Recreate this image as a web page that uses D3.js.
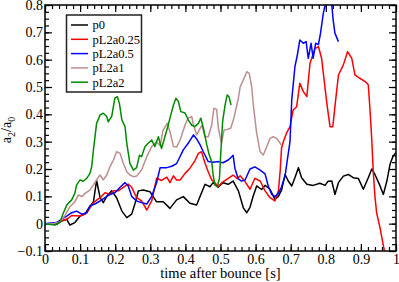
<!DOCTYPE html>
<meta charset="utf-8">
<style>
body { margin: 0; background: #fff; }
svg text { font-family: "Liberation Serif", "Times New Roman", Times, "DejaVu Serif", serif; fill: #000; }
.tick text { font-size: 14px; }
.tick line { stroke: #000; stroke-width: 1.2px; }
.domain { display: none; }
.series { fill: none; stroke-width: 1.5px; stroke-linejoin: round; }
</style>
<body>
<script src="https://cdn.jsdelivr.net/npm/d3@7"></script>
<script>

var names = ["p0", "pL2a0.25", "pL2a0.5", "pL2a1", "pL2a2"];
var colors = ["#000000", "#ff0000", "#0000ff", "#bc8f8f", "#008b00"];

var xTicks = [0, 0.1, 0.2, 0.3, 0.4, 0.5, 0.6, 0.7, 0.8, 0.9, 1];
var yTicks = [-0.1, 0, 0.1, 0.2, 0.3, 0.4, 0.5, 0.6, 0.7, 0.8];

var p0 = [[0,0],[0.014,0.001],[0.033,-0.003],[0.048,0.01],[0.062,0.016],[0.071,-0.005],[0.085,0.004],[0.1,0.028],[0.114,0.035],[0.123,0.054],[0.138,0.08],[0.147,0.158],[0.157,0.095],[0.166,0.077],[0.176,0.1],[0.19,0.12],[0.204,0.095],[0.219,0.046],[0.233,0.022],[0.247,0.035],[0.256,0.072],[0.266,0.12],[0.28,0.123],[0.299,0.117],[0.318,0.08],[0.337,0.08],[0.356,0.056],[0.375,0.087],[0.394,0.099],[0.413,0.075],[0.432,0.068],[0.442,0.1],[0.456,0.144],[0.47,0.135],[0.479,0.15],[0.493,0.133],[0.507,0.15],[0.522,0.144],[0.536,0.156],[0.551,0.12],[0.565,0.058],[0.575,0.04],[0.584,0.06],[0.593,0.1],[0.603,0.138],[0.617,0.125],[0.627,0.14],[0.641,0.126],[0.655,0.089],[0.665,0.1],[0.674,0.123],[0.684,0.18],[0.693,0.156],[0.703,0.138],[0.712,0.168],[0.722,0.205],[0.731,0.168],[0.746,0.144],[0.764,0.14],[0.783,0.148],[0.798,0.14],[0.806,0.155],[0.817,0.156],[0.826,0.107],[0.836,0.15],[0.85,0.174],[0.864,0.18],[0.878,0.168],[0.893,0.165],[0.907,0.126],[0.921,0.168],[0.931,0.2],[0.94,0.18],[0.954,0.14],[0.964,0.107],[0.974,0.156],[0.983,0.217],[0.992,0.248],[1.0,0.26]];

var pL2a025 = [[0,0],[0.028,0.001],[0.043,0.01],[0.062,0.016],[0.076,0.03],[0.1,0.028],[0.119,0.04],[0.138,0.077],[0.157,0.095],[0.171,0.113],[0.185,0.107],[0.195,0.12],[0.209,0.12],[0.223,0.133],[0.237,0.145],[0.247,0.133],[0.261,0.095],[0.275,0.083],[0.29,0.05],[0.304,0.083],[0.318,0.166],[0.332,0.158],[0.347,0.17],[0.356,0.15],[0.366,0.175],[0.375,0.16],[0.385,0.16],[0.399,0.184],[0.413,0.203],[0.427,0.23],[0.437,0.257],[0.446,0.263],[0.456,0.221],[0.465,0.19],[0.475,0.16],[0.484,0.15],[0.493,0.135],[0.504,0.15],[0.522,0.166],[0.536,0.178],[0.547,0.165],[0.556,0.175],[0.57,0.154],[0.584,0.126],[0.598,0.166],[0.613,0.156],[0.627,0.12],[0.641,0.095],[0.655,0.083],[0.665,0.12],[0.67,0.193],[0.674,0.278],[0.679,0.3],[0.688,0.331],[0.698,0.355],[0.707,0.416],[0.717,0.428],[0.726,0.514],[0.736,0.483],[0.746,0.465],[0.755,0.587],[0.769,0.64],[0.779,0.648],[0.788,0.605],[0.803,0.44],[0.812,0.355],[0.82,0.355],[0.826,0.428],[0.836,0.544],[0.85,0.581],[0.862,0.629],[0.874,0.605],[0.883,0.544],[0.897,0.532],[0.912,0.52],[0.921,0.508],[0.926,0.416],[0.931,0.306],[0.935,0.196],[0.94,0.099],[0.945,0.038],[0.954,-0.012],[0.964,-0.08],[0.967,-0.1]];

var pL2a05 = [[0,0],[0.033,0.004],[0.052,0.02],[0.062,0.028],[0.076,0.04],[0.09,0.046],[0.105,0.035],[0.119,0.04],[0.128,0.065],[0.142,0.072],[0.157,0.083],[0.171,0.095],[0.185,0.107],[0.199,0.113],[0.214,0.133],[0.228,0.15],[0.237,0.138],[0.247,0.1],[0.261,0.083],[0.275,0.077],[0.29,0.072],[0.304,0.1],[0.318,0.15],[0.328,0.205],[0.347,0.205],[0.361,0.21],[0.375,0.22],[0.38,0.233],[0.394,0.27],[0.408,0.294],[0.423,0.325],[0.432,0.31],[0.442,0.288],[0.451,0.263],[0.465,0.227],[0.479,0.225],[0.494,0.227],[0.507,0.223],[0.522,0.233],[0.532,0.245],[0.536,0.25],[0.541,0.203],[0.55,0.165],[0.56,0.156],[0.57,0.16],[0.584,0.2],[0.598,0.208],[0.613,0.196],[0.627,0.182],[0.636,0.138],[0.646,0.107],[0.655,0.099],[0.665,0.111],[0.674,0.135],[0.684,0.175],[0.69,0.23],[0.698,0.3],[0.703,0.453],[0.712,0.574],[0.719,0.617],[0.726,0.672],[0.736,0.66],[0.744,0.666],[0.75,0.605],[0.758,0.66],[0.764,0.605],[0.771,0.66],[0.779,0.655],[0.785,0.697],[0.793,0.77],[0.798,0.8],[0.807,0.84],[0.817,0.8],[0.821,0.745],[0.826,0.697],[0.836,0.666]];

var pL2a1 = [[0,0],[0.024,0],[0.043,0.007],[0.057,0.03],[0.071,0.062],[0.085,0.08],[0.095,0.105],[0.105,0.099],[0.114,0.111],[0.128,0.123],[0.138,0.142],[0.147,0.16],[0.157,0.178],[0.166,0.16],[0.176,0.178],[0.185,0.208],[0.195,0.233],[0.204,0.263],[0.214,0.257],[0.223,0.221],[0.233,0.19],[0.242,0.178],[0.252,0.172],[0.261,0.174],[0.275,0.196],[0.29,0.245],[0.304,0.282],[0.318,0.3],[0.328,0.285],[0.336,0.34],[0.348,0.367],[0.356,0.337],[0.366,0.282],[0.375,0.28],[0.385,0.306],[0.399,0.361],[0.408,0.386],[0.418,0.392],[0.423,0.361],[0.432,0.325],[0.442,0.349],[0.447,0.36],[0.456,0.318],[0.465,0.318],[0.475,0.361],[0.481,0.422],[0.489,0.418],[0.494,0.349],[0.503,0.294],[0.51,0.343],[0.519,0.345],[0.529,0.349],[0.538,0.386],[0.551,0.459],[0.556,0.5],[0.565,0.526],[0.575,0.556],[0.582,0.55],[0.589,0.5],[0.593,0.44],[0.603,0.331],[0.613,0.263],[0.622,0.251],[0.632,0.282],[0.641,0.312],[0.65,0.318],[0.66,0.312],[0.67,0.294],[0.672,0.288]];

var pL2a2 = [[0,0],[0.028,-0.005],[0.043,0.007],[0.052,0.038],[0.062,0.068],[0.076,0.087],[0.085,0.111],[0.09,0.142],[0.1,0.16],[0.109,0.155],[0.119,0.166],[0.128,0.184],[0.133,0.208],[0.138,0.27],[0.147,0.367],[0.157,0.398],[0.166,0.404],[0.176,0.392],[0.18,0.373],[0.19,0.392],[0.199,0.459],[0.206,0.465],[0.212,0.44],[0.219,0.38],[0.228,0.355],[0.233,0.294],[0.242,0.22],[0.252,0.196],[0.261,0.205],[0.269,0.25],[0.275,0.245],[0.285,0.282],[0.294,0.294],[0.304,0.306],[0.313,0.282],[0.323,0.318],[0.332,0.275],[0.342,0.32],[0.351,0.36],[0.356,0.386],[0.366,0.434],[0.373,0.459],[0.38,0.447],[0.387,0.41],[0.399,0.405],[0.408,0.38],[0.418,0.36],[0.427,0.355],[0.437,0.367],[0.444,0.386],[0.451,0.35],[0.461,0.288],[0.468,0.251],[0.475,0.227],[0.479,0.178],[0.484,0.142],[0.491,0.135],[0.497,0.166],[0.501,0.263],[0.506,0.373],[0.513,0.434],[0.519,0.471],[0.524,0.465],[0.53,0.434]];

var series = [p0, pL2a025, pL2a05, pL2a1, pL2a2];

var width = 399, height = 282;
var mLeft = 45, mRight = 396, mTop = 5, mBottom = 251;

var svg = d3.select("body").append("svg")
    .attr("width", width)
    .attr("height", height);

var x = d3.scaleLinear().domain([0, 1]).range([mLeft, mRight]);
var y = d3.scaleLinear().domain([-0.1, 0.8]).range([mBottom, mTop]);

svg.append("clipPath").attr("id", "clip")
  .append("rect")
    .attr("x", mLeft).attr("y", mTop)
    .attr("width", mRight - mLeft).attr("height", mBottom - mTop);

var fmt = function(d) { return d3.format("")(+d.toFixed(1)); };
var xMinor = d3.range(0, 1.0001, 0.02);
var yMinor = d3.range(-0.1, 0.8001, 0.025);

// major + minor ticks on all four sides, pointing inward
svg.append("g").attr("transform", "translate(0," + mBottom + ")")
    .call(d3.axisBottom(x).tickValues(xMinor).tickSize(-4).tickFormat(""));
svg.append("g").attr("transform", "translate(0," + mBottom + ")")
    .call(d3.axisBottom(x).tickValues(xTicks).tickSize(-7).tickPadding(3).tickFormat(fmt));
svg.append("g").attr("transform", "translate(0," + mTop + ")")
    .call(d3.axisTop(x).tickValues(xMinor).tickSize(-4).tickFormat(""));
svg.append("g").attr("transform", "translate(0," + mTop + ")")
    .call(d3.axisTop(x).tickValues(xTicks).tickSize(-7).tickFormat(""));

svg.append("g").attr("transform", "translate(" + mLeft + ",0)")
    .call(d3.axisLeft(y).tickValues(yMinor).tickSize(-4).tickFormat(""));
svg.append("g").attr("transform", "translate(" + mLeft + ",0)")
    .call(d3.axisLeft(y).tickValues(yTicks).tickSize(-7).tickPadding(2).tickFormat(fmt));
svg.append("g").attr("transform", "translate(" + mRight + ",0)")
    .call(d3.axisRight(y).tickValues(yMinor).tickSize(-4).tickFormat(""));
svg.append("g").attr("transform", "translate(" + mRight + ",0)")
    .call(d3.axisRight(y).tickValues(yTicks).tickSize(-7).tickFormat(""));

// the axis sets font-family on its group; put the serif face back
svg.selectAll("g").attr("font-family", null);

var line = d3.line()
    .x(function(d) { return x(d[0]); })
    .y(function(d) { return y(d[1]); });

svg.append("g").attr("clip-path", "url(#clip)")
  .selectAll("path")
  .data(series)
  .enter().append("path")
    .attr("class", "series")
    .attr("stroke", function(d, i) { return colors[i]; })
    .attr("d", line);

svg.append("rect")
    .attr("x", mLeft).attr("y", mTop)
    .attr("width", mRight - mLeft).attr("height", mBottom - mTop)
    .attr("fill", "none").attr("stroke", "#000").attr("stroke-width", 1.5);

// legend
var lg = svg.append("g");
lg.append("rect")
    .attr("x", 66.5).attr("y", 15)
    .attr("width", 75).attr("height", 77)
    .attr("fill", "#fff").attr("stroke", "#222").attr("stroke-width", 1.5);
var item = lg.selectAll(".item")
  .data(names)
  .enter().append("g")
    .attr("class", "item")
    .attr("transform", function(d, i) { return "translate(70," + (25 + i * 14.3) + ")"; });
item.append("line")
    .attr("x1", 1).attr("x2", 18)
    .attr("stroke", function(d, i) { return colors[i]; })
    .attr("stroke-width", 1.5);
item.append("text")
    .attr("x", 22.5).attr("dy", "0.35em")
    .style("font-size", "12.5px")
    .text(function(d) { return d; });

// axis titles
svg.append("text")
    .attr("x", (mLeft + mRight) / 2).attr("y", 278)
    .attr("text-anchor", "middle")
    .style("font-size", "14.5px")
    .text("time after bounce [s]");

var yl = svg.append("text")
    .attr("transform", "translate(11,130) rotate(-90)")
    .attr("text-anchor", "middle")
    .style("font-size", "14px");
yl.append("tspan").text("a");
yl.append("tspan").attr("dy", 3.5).style("font-size", "10px").text("2");
yl.append("tspan").attr("dy", -3.5).text("/a");
yl.append("tspan").attr("dy", 3.5).style("font-size", "10px").text("0");

</script>
</body>
</html>
